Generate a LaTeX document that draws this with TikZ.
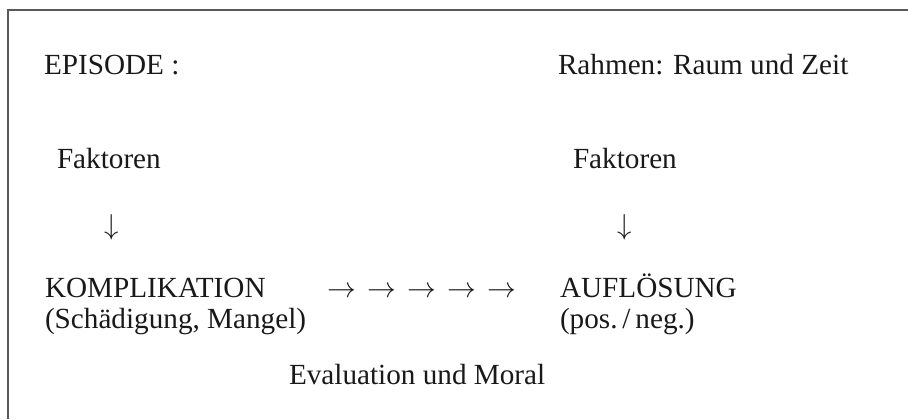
\documentclass[tikz,border=0pt]{standalone}
\usepackage{fontspec}
\setmainfont{Liberation Serif}
\usetikzlibrary{positioning}

\begin{document}
\begin{tikzpicture}[x=0.5pt, y=-0.5pt, line width=1pt]
% Text styles
\tikzstyle{txt}=[inner sep=0pt, outer sep=0pt, anchor=base west, black!90, font=\fontsize{14.6}{17}\selectfont]
\tikzstyle{pfeil}=[inner sep=0pt, outer sep=0pt, anchor=base, black!90, font=\fontsize{14.6}{17}\selectfont]
\useasboundingbox (0,0) rectangle (908,419);
% Frame (top and left only)
\draw[black!65] (908,9.5) -- (8,9.5) -- (8,419);
% Row 1
\node[txt] (epi) at (44,74) {EPISODE :};
\node[txt] (rah) at (558,74) {Rahmen: Raum und Zeit};
% Row 2
\node[txt] (fak1) at (57,168) {Faktoren};
\node[txt] (fak2) at (573,168) {Faktoren};
\node[pfeil] (ab1) at (111.5,234) {$\downarrow$};
\node[pfeil] (ab2) at (625,234) {$\downarrow$};
% Row 3
\node[txt] (kom) at (45,297) {KOMPLIKATION};
\node[txt] (auf) at (560,297) {AUFLÖSUNG};
\foreach \i in {0,...,4}
  \node[pfeil] (r\i) at (342+40*\i,297) {$\rightarrow$};
\node[txt] (sch) at (45,328) {(Schädigung, Mangel)};
\node[txt] (pos) at (560,328) {(pos.\,/\,neg.)};
% Row 4
\node[txt] (eva) at (289,384) {Evaluation und Moral};
\end{tikzpicture}
\end{document}
